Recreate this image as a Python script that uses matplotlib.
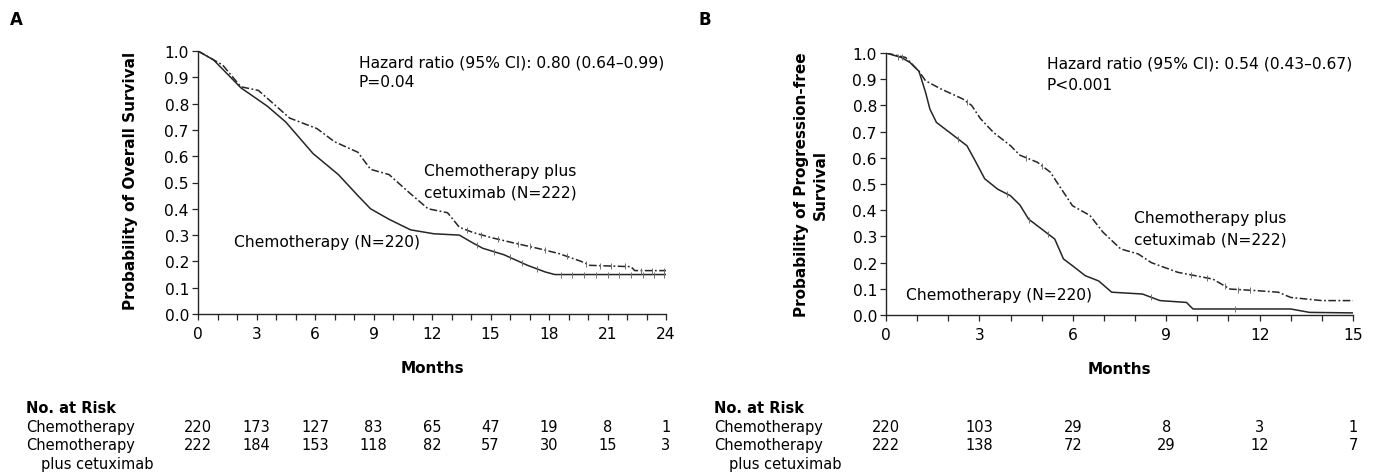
import matplotlib.pyplot as plt
import matplotlib.transforms as mtransforms
import numpy as np

plt.rcParams['font.family'] = ['DejaVu Sans']

# ---------------- data ----------------
# Panel A: overall survival
a_chemo_t = [0, 0.8, 2.2, 3.56, 4.5, 5.9, 7.2, 8.2, 8.85, 9.8, 10.9, 12.1, 13.4,
             14.1, 14.6, 15.7, 16.9, 17.8, 18.3, 24]
a_chemo_s = [1.0, 0.966, 0.86, 0.79, 0.73, 0.61, 0.53, 0.45, 0.40, 0.36, 0.32, 0.305,
             0.30, 0.27, 0.25, 0.225, 0.185, 0.16, 0.15, 0.15]
a_cetux_t = [0, 1.26, 2.2, 3.1, 4.7, 6.1, 7.0, 8.2, 8.85, 9.8, 10.7, 11.8, 12.8, 13.4,
             14.1, 15.06, 16.2, 17.4, 18.5, 19.65, 20.1, 22.2, 22.4, 24]
a_cetux_s = [1.0, 0.947, 0.864, 0.85, 0.745, 0.705, 0.655, 0.615, 0.55, 0.53, 0.47,
             0.40, 0.385, 0.33, 0.31, 0.29, 0.27, 0.25, 0.23, 0.20, 0.185, 0.18,
             0.165, 0.165]
a_chemo_cens = [14.3, 15.2, 16.0, 16.6, 17.4, 18.6, 19.2, 19.8, 20.4, 21.0, 21.6,
                22.2, 22.8, 23.4, 23.9]
a_cetux_cens = [13.8, 14.5, 15.4, 16.4, 17.0, 17.8, 18.9, 19.9, 20.6, 21.2, 21.9,
                22.7, 23.3, 23.9]

a_xticks = [0, 3, 6, 9, 12, 15, 18, 21, 24]
a_risk_chemo = [220, 173, 127, 83, 65, 47, 19, 8, 1]
a_risk_cetux = [222, 184, 153, 118, 82, 57, 30, 15, 3]

# Panel B: progression-free survival
b_chemo_t = [0, 0.49, 0.77, 1.06, 1.27, 1.41, 1.62, 2.04, 2.6, 2.89, 3.17, 3.59, 4.0,
             4.3, 4.58, 5.0, 5.42, 5.7, 5.99, 6.4, 6.83, 7.25, 8.24, 8.8, 9.65, 9.86,
             13.0, 13.6, 15]
b_chemo_s = [1.0, 0.983, 0.964, 0.93, 0.85, 0.786, 0.735, 0.697, 0.646, 0.583, 0.52,
             0.48, 0.455, 0.42, 0.366, 0.328, 0.29, 0.214, 0.188, 0.15, 0.13, 0.087,
             0.08, 0.055, 0.048, 0.023, 0.023, 0.01, 0.008]
b_cetux_t = [0, 0.63, 1.06, 1.27, 1.76, 2.46, 2.75, 3.03, 3.45, 4.0, 4.3, 4.86, 5.28,
             5.56, 5.99, 6.55, 6.97, 7.54, 8.1, 8.52, 9.37, 10.5, 11.05, 11.9, 12.6,
             13.0, 14.0, 15]
b_cetux_s = [1.0, 0.983, 0.93, 0.894, 0.863, 0.825, 0.80, 0.75, 0.697, 0.646, 0.61,
             0.583, 0.545, 0.494, 0.417, 0.38, 0.316, 0.252, 0.233, 0.20, 0.163,
             0.137, 0.099, 0.093, 0.087, 0.067, 0.055, 0.055]
b_chemo_cens = [0.4, 2.3, 3.9, 4.6, 5.2, 8.5, 11.2]
b_cetux_cens = [0.5, 2.6, 4.5, 5.0, 9.8, 10.3, 10.9, 11.3, 11.7]

b_xticks = [0, 3, 6, 9, 12, 15]
b_risk_chemo = [220, 103, 29, 8, 3, 1]
b_risk_cetux = [222, 138, 72, 29, 12, 7]

FS_TICK = 11.2
FS_ANN = 11.2
FS_TAB = 10.5
FS_LAB = 11
COL = '#262626'
DASH = (5, 1.6, 1.2, 1.6)


def draw_panel(ax, xmax, ct, cs, cc, et, es, ec, xticks):
    ax.plot(ct, cs, color=COL, lw=1.1)
    ax.plot(et, es, color=COL, lw=1.1, dashes=DASH)
    ax.plot(cc, np.interp(cc, ct, cs), ls='none', marker='|', ms=4.5, mew=0.7,
            color='#707070')
    ax.plot(ec, np.interp(ec, et, es), ls='none', marker='|', ms=4.5, mew=0.7,
            color='#707070')
    ax.set_xlim(0, xmax)
    ax.set_ylim(0, 1.0)
    ax.set_xticks(xticks)
    ax.set_xticks(np.arange(0, xmax + 1, 1), minor=True)
    ax.set_yticks(np.arange(0, 1.01, 0.1))
    ax.set_yticklabels(['%.1f' % v for v in np.arange(0, 1.01, 0.1)])
    for s in ['top', 'right']:
        ax.spines[s].set_visible(False)
    for s in ['left', 'bottom']:
        ax.spines[s].set_linewidth(1.0)
        ax.spines[s].set_color(COL)
    ax.tick_params(which='both', direction='out', length=4.5, width=0.9,
                   labelsize=FS_TICK, color=COL, pad=2)
    ax.tick_params(axis='x', pad=4)
    ax.set_xlabel('Months', fontsize=FS_LAB, fontweight='bold', labelpad=14)


def risk_table(fig, ax, xticks, r1, r2, x_left):
    trans = mtransforms.blended_transform_factory(ax.transData, fig.transFigure)
    fig.text(x_left, 1 - 409 / 477, 'No. at Risk', fontsize=FS_TAB,
             fontweight='bold', va='center')
    fig.text(x_left, 1 - 428 / 477, 'Chemotherapy', fontsize=FS_TAB, va='center')
    fig.text(x_left, 1 - 446 / 477, 'Chemotherapy', fontsize=FS_TAB, va='center')
    fig.text(x_left + 15 / 1373, 1 - 465 / 477, 'plus cetuximab', fontsize=FS_TAB,
             va='center')
    for x, a, b in zip(xticks, r1, r2):
        ax.text(x, 1 - 428 / 477, str(a), transform=trans, ha='center',
                va='center', fontsize=FS_TAB, clip_on=False)
        ax.text(x, 1 - 446 / 477, str(b), transform=trans, ha='center',
                va='center', fontsize=FS_TAB, clip_on=False)


fig = plt.figure(figsize=(13.73, 4.77), dpi=100)
W, H = 1373, 477
axA = fig.add_axes([198 / W, 1 - 315 / H, 468 / W, 263 / H])
axB = fig.add_axes([886 / W, 1 - 316 / H, 467 / W, 262 / H])

draw_panel(axA, 24, a_chemo_t, a_chemo_s, a_chemo_cens, a_cetux_t, a_cetux_s,
           a_cetux_cens, a_xticks)
draw_panel(axB, 15, b_chemo_t, b_chemo_s, b_chemo_cens, b_cetux_t, b_cetux_s,
           b_cetux_cens, b_xticks)

axA.set_ylabel('Probability of Overall Survival', fontsize=FS_LAB,
               fontweight='bold')
axA.yaxis.set_label_coords(-0.128, 0.51)
axB.set_ylabel('Probability of Progression-free\nSurvival', fontsize=FS_LAB,
               fontweight='bold', linespacing=1.3)
axB.yaxis.set_label_coords(-0.125, 0.5)

# annotations panel A
axA.text(8.24, 0.958, 'Hazard ratio (95% CI): 0.80 (0.64\u20130.99)',
         fontsize=FS_ANN, va='center')
axA.text(8.24, 0.885, 'P=0.04', fontsize=FS_ANN, va='center')
axA.text(11.6, 0.547, 'Chemotherapy plus', fontsize=FS_ANN, va='center')
axA.text(11.6, 0.465, 'cetuximab (N=222)', fontsize=FS_ANN, va='center')
axA.text(1.84, 0.275, 'Chemotherapy (N=220)', fontsize=FS_ANN, va='center')

# annotations panel B
axB.text(5.17, 0.96, 'Hazard ratio (95% CI): 0.54 (0.43\u20130.67)',
         fontsize=FS_ANN, va='center')
axB.text(5.17, 0.88, 'P<0.001', fontsize=FS_ANN, va='center')
axB.text(7.97, 0.374, 'Chemotherapy plus', fontsize=FS_ANN, va='center')
axB.text(7.97, 0.29, 'cetuximab (N=222)', fontsize=FS_ANN, va='center')
axB.text(0.64, 0.08, 'Chemotherapy (N=220)', fontsize=FS_ANN, va='center')

risk_table(fig, axA, a_xticks, a_risk_chemo, a_risk_cetux, 26 / W)
risk_table(fig, axB, b_xticks, b_risk_chemo, b_risk_cetux, 714 / W)

fig.text(10 / W, 1 - 20 / H, 'A', fontsize=12, fontweight='bold', va='center')
fig.text(699 / W, 1 - 20 / H, 'B', fontsize=12, fontweight='bold', va='center')

fig.savefig('out.png', dpi=100)
